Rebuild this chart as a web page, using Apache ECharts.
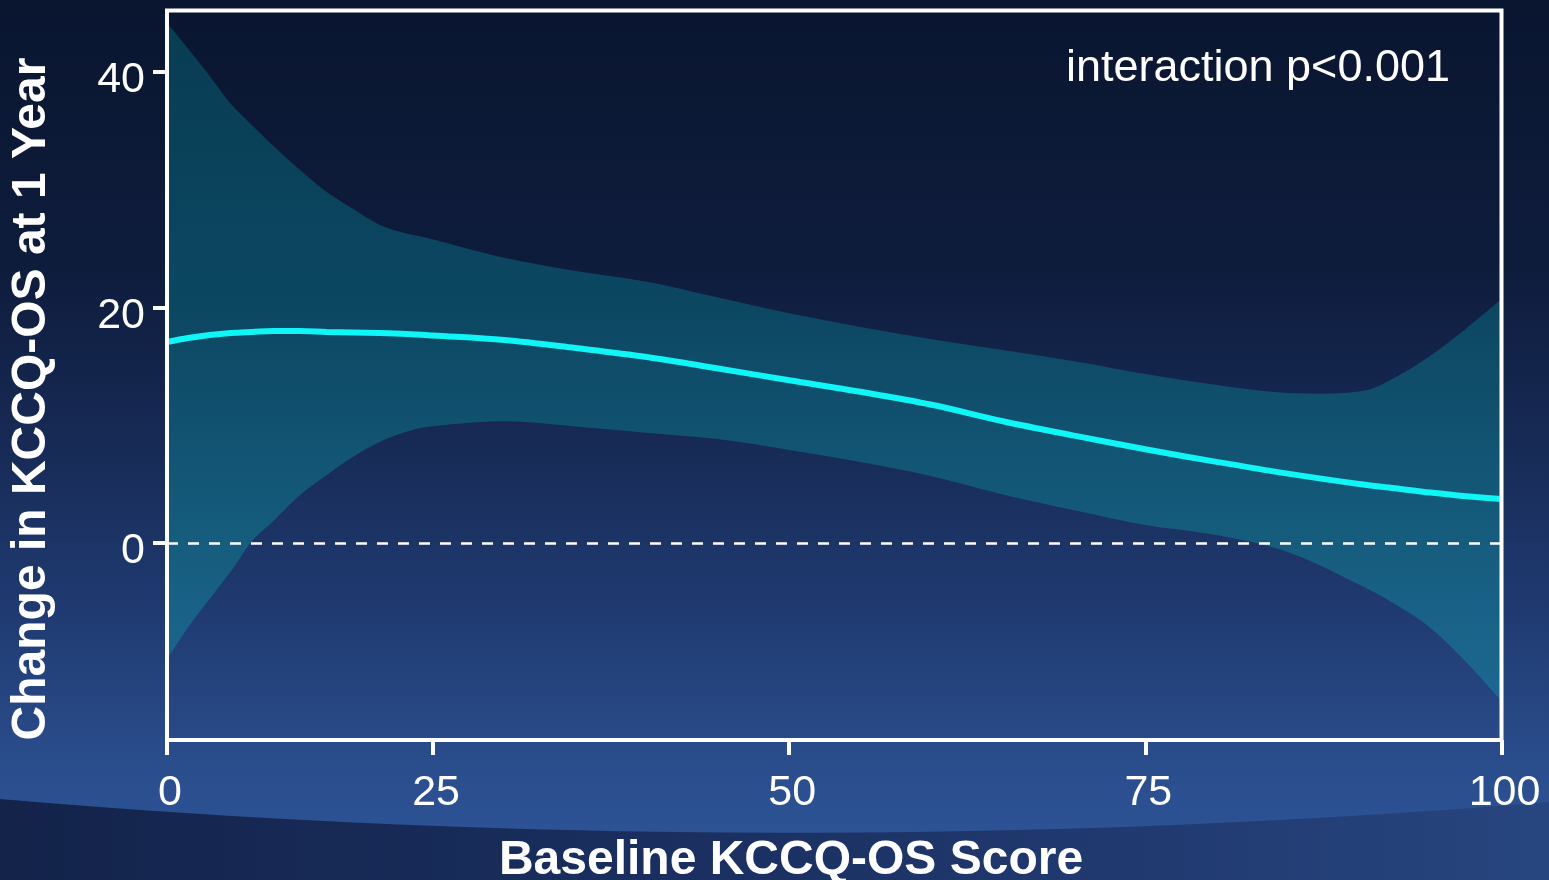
<!DOCTYPE html>
<html>
<head>
<meta charset="utf-8">
<script src="https://cdn.jsdelivr.net/npm/echarts@6/dist/echarts.min.js"></script>
<style>
html,body{margin:0;padding:0;background:#0a1630;overflow:hidden}
#c{width:1549px;height:880px}
</style>
</head>
<body>
<div id="c"></div>
<script>
// ---------------- data ----------------
const xTickScores = [0, 25, 50, 75, 100];
const xTickLabels = ['0', '25', '50', '75', '100'];
const yTickValues = [0, 20, 40];
const yTickLabels = ['0', '20', '40'];

const baselineScore = [0, 2, 4, 6, 8, 10, 12.5, 15, 17.5, 20, 22.5, 25, 30, 35, 40, 45, 50, 55, 60, 65, 70, 75, 80, 85, 90, 92.5, 95, 97.5, 100];
const estimate = [17.07, 17.41, 17.66, 17.83, 17.92, 18.00, 18.00, 17.92, 17.88, 17.83, 17.75, 17.62, 17.24, 16.56, 15.80, 14.82, 13.82, 12.84, 11.74, 10.34, 9.12, 7.96, 6.89, 5.89, 5.01, 4.65, 4.28, 3.97, 3.74];
const upperCI = [44.16, 41.95, 39.66, 37.28, 35.46, 33.72, 31.68, 29.81, 28.37, 27.01, 26.28, 25.78, 24.22, 23.10, 22.18, 20.84, 19.50, 18.34, 17.30, 16.39, 15.43, 14.35, 13.42, 12.74, 12.87, 14.04, 15.90, 18.20, 20.72];
const lowerCI = [-9.85, -7.13, -4.76, -2.41, 0.17, 1.87, 4.08, 5.77, 7.33, 8.59, 9.44, 9.91, 10.33, 9.90, 9.37, 8.83, 7.90, 6.88, 5.67, 4.12, 2.78, 1.53, 0.68, -0.76, -3.52, -5.17, -7.19, -10.08, -13.42];

const xAxisTitle = 'Baseline KCCQ-OS Score';
const yAxisTitle = 'Change in KCCQ-OS at 1 Year';
const annotation = 'interaction p<0.001';

// ---------------- axis geometry ----------------
const Y_MIN = -16.73, Y_MAX = 45.22;
// The reference x axis is piecewise linear: 0-25 spans a shorter length than each later 25-unit step.
const SPLIT = 25, SPLIT_POS = 19.94;
function toAxis(s) {
  return s <= SPLIT ? s * SPLIT_POS / SPLIT : SPLIT_POS + (s - SPLIT) * (100 - SPLIT_POS) / (100 - SPLIT);
}
const xTickPos = xTickScores.map(toAxis);

const FONT = '"Liberation Sans", Arial, Helvetica, sans-serif';

const bgFill = {
  type: 'linear', x: 0, y: 0, x2: 0, y2: 880, global: true,
  colorStops: [
    {offset: 0, color: '#0a1630'},
    {offset: 0.3, color: '#0e1c3c'},
    {offset: 0.5, color: '#172a55'},
    {offset: 0.7, color: '#203b72'},
    {offset: 0.85, color: '#294b89'},
    {offset: 0.95, color: '#2d5396'},
    {offset: 1, color: '#2f5699'}
  ]
};
const swooshFill = {
  type: 'linear', x: 0, y: 0, x2: 1, y2: 0,
  colorStops: [
    {offset: 0, color: '#13234a'},
    {offset: 0.5, color: '#1b3163'},
    {offset: 1, color: '#27457f'}
  ]
};
const bandFill = {
  type: 'linear', x: 0, y: 0, x2: 0, y2: 880, global: true,
  colorStops: [
    {offset: 0, color: '#083c52'},
    {offset: 0.35, color: '#0c4762'},
    {offset: 0.6, color: '#155b7c'},
    {offset: 0.8, color: '#1d6892'},
    {offset: 1, color: '#1f6c97'}
  ]
};

// decorative background swoosh outline (quadratic curve sampled for a polygon)
const swooshPts = [];
for (let k = 0; k <= 40; k++) {
  const t = k / 40;
  swooshPts.push([
    2 * t * (1 - t) * 775 + t * t * 1549,
    (1 - t) * (1 - t) * 799 + 2 * t * (1 - t) * 865 + t * t * 802
  ]);
}
swooshPts.push([1549, 880], [0, 880]);

function curvePath(pts, start) {
  let d = (start ? 'M' : 'L') + pts[0][0] + ' ' + pts[0][1];
  for (let i = 0; i < pts.length - 1; i++) {
    const p0 = pts[Math.max(i - 1, 0)], p1 = pts[i], p2 = pts[i + 1], p3 = pts[Math.min(i + 2, pts.length - 1)];
    const c1x = p1[0] + (p2[0] - p0[0]) / 6, c1y = p1[1] + (p2[1] - p0[1]) / 6;
    const c2x = p2[0] - (p3[0] - p1[0]) / 6, c2y = p2[1] - (p3[1] - p1[1]) / 6;
    d += ' C' + c1x + ' ' + c1y + ' ' + c2x + ' ' + c2y + ' ' + p2[0] + ' ' + p2[1];
  }
  return d;
}

const chart = echarts.init(document.getElementById('c'), null, {renderer: 'canvas'});

const option = {
  animation: false,
  backgroundColor: 'transparent',
  grid: {
    left: 167, right: 47.5, top: 10.5, bottom: 140,
    show: true, borderColor: '#ffffff', borderWidth: 4, backgroundColor: 'transparent',
    z: 10, containLabel: false, outerBoundsMode: 'none'
  },
  xAxis: {
    type: 'value', min: 0, max: 100, z: 10, position: 'bottom',
    axisLine: {show: false, onZero: false},
    splitLine: {show: false},
    axisTick: {show: true, customValues: xTickPos, length: 15, lineStyle: {color: '#fff', width: 4}},
    axisLabel: {
      customValues: xTickPos,
      showMinLabel: true, showMaxLabel: true,
      formatter: function (v) {
        let best = 0;
        xTickPos.forEach(function (p, i) { if (Math.abs(p - v) < Math.abs(xTickPos[best] - v)) best = i; });
        return xTickLabels[best];
      },
      color: '#ffffff', fontSize: 43, fontFamily: FONT, margin: 32, padding: [0, 0, 0, 6]
    }
  },
  yAxis: {
    type: 'value', min: Y_MIN, max: Y_MAX, z: 10, position: 'left',
    axisLine: {show: false, onZero: false},
    splitLine: {show: false},
    axisTick: {show: true, customValues: yTickValues, length: 14, lineStyle: {color: '#fff', width: 4}},
    axisLabel: {
      customValues: yTickValues,
      showMinLabel: true, showMaxLabel: true,
      formatter: function (v) {
        const i = yTickValues.indexOf(Math.round(v));
        return i >= 0 ? yTickLabels[i] : '';
      },
      color: '#ffffff', fontSize: 43, fontFamily: FONT, margin: 22,
      verticalAlign: 'top', lineHeight: 17
    }
  },
  series: [
    {
      type: 'custom',
      name: 'CI band',
      silent: true,
      z: 2,
      data: [[0, 0]],
      renderItem: function (params, api) {
        const up = baselineScore.map(function (s, i) { return api.coord([toAxis(s), upperCI[i]]); });
        const lo = baselineScore.map(function (s, i) { return api.coord([toAxis(s), lowerCI[i]]); }).reverse();
        return {
          type: 'path',
          shape: {pathData: curvePath(up, true) + ' ' + curvePath(lo, false) + ' Z'},
          style: {fill: bandFill}
        };
      }
    },
    {
      type: 'line',
      name: 'Estimate',
      z: 3,
      silent: true,
      data: baselineScore.map(function (s, i) { return [toAxis(s), estimate[i]]; }),
      smooth: 0.35,
      showSymbol: false,
      symbol: 'none',
      lineStyle: {color: '#10f6f6', width: 6},
      markLine: {
        silent: true,
        symbol: ['none', 'none'],
        label: {show: false},
        lineStyle: {color: '#ffffff', width: 2.5, type: [11, 10]},
        data: [{yAxis: 0}]
      }
    }
  ],
  graphic: [
    {type: 'rect', z: -10, silent: true, shape: {x: 0, y: 0, width: 1549, height: 880}, style: {fill: bgFill}},
    {type: 'polygon', z: -9, silent: true, shape: {points: swooshPts}, style: {fill: swooshFill}},
    {type: 'text', z: 100, silent: true, x: 1450, y: 69,
      style: {text: annotation, fill: '#ffffff', font: '45px ' + FONT, align: 'right', verticalAlign: 'middle'}},
    {type: 'text', z: 100, silent: true, x: 791, y: 861,
      style: {text: xAxisTitle, fill: '#ffffff', font: 'bold 48px ' + FONT, align: 'center', verticalAlign: 'middle'}},
    {type: 'text', z: 100, silent: true, x: 31.5, y: 399, rotation: Math.PI / 2,
      style: {text: yAxisTitle, fill: '#ffffff', font: 'bold 48px ' + FONT, align: 'center', verticalAlign: 'middle'}}
  ]
};
chart.setOption(option);
</script>
</body>
</html>
